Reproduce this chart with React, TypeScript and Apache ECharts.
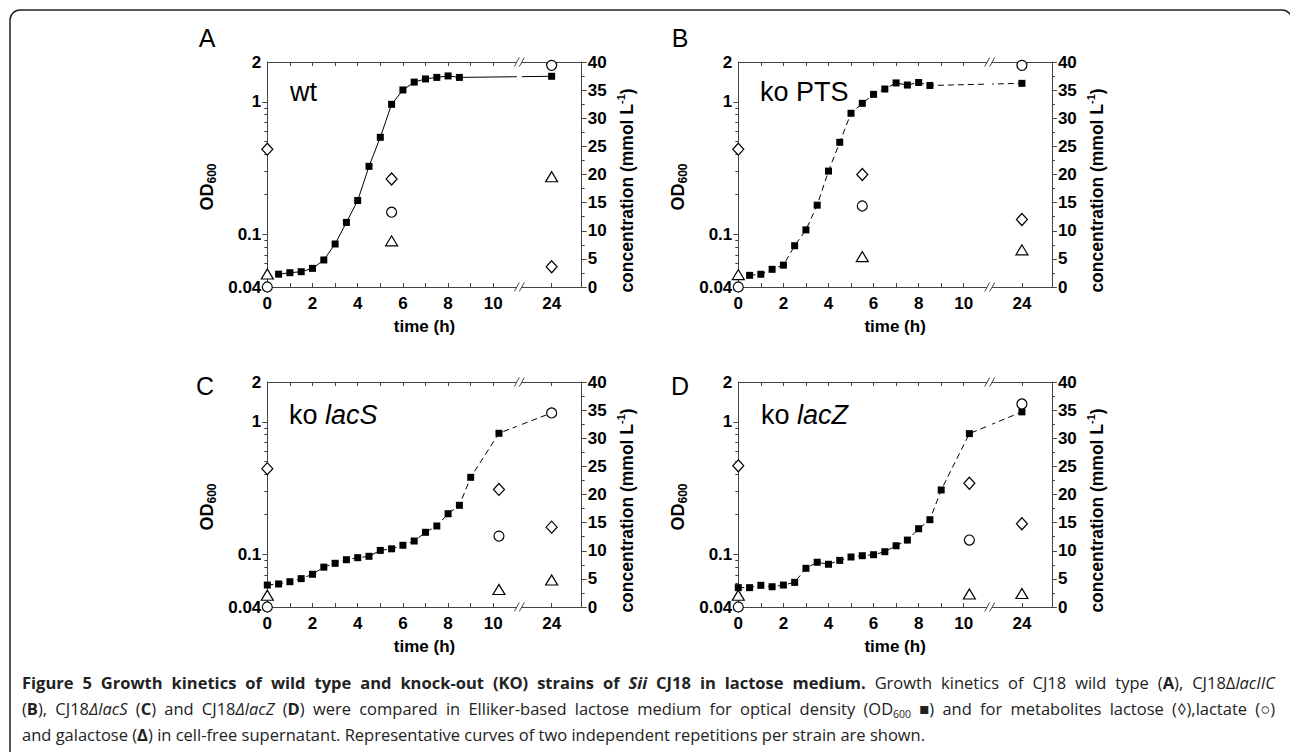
import React, { useEffect, useRef } from 'react';
import * as echarts from 'echarts';

// ---------------- data ----------------
const timeAB = [0.5, 1, 1.5, 2, 2.5, 3, 3.5, 4, 4.5, 5, 5.5, 6, 6.5, 7, 7.5, 8, 8.5, 24];
const odA = [0.050, 0.0513, 0.0522, 0.0553, 0.064, 0.0845, 0.123, 0.180, 0.326, 0.540, 0.958, 1.23, 1.41, 1.49, 1.53, 1.57, 1.53, 1.56];
const odB = [0.049, 0.0499, 0.0544, 0.0585, 0.082, 0.108, 0.166, 0.300, 0.495, 0.820, 0.975, 1.14, 1.25, 1.39, 1.34, 1.40, 1.33, 1.38];
const timeCD = [0, 0.5, 1, 1.5, 2, 2.5, 3, 3.5, 4, 4.5, 5, 5.5, 6, 6.5, 7, 7.5, 8, 8.5, 9, 10.25, 24];
const odC = [0.0586, 0.0597, 0.0621, 0.0655, 0.0707, 0.080, 0.0855, 0.091, 0.0943, 0.0966, 0.107, 0.110, 0.117, 0.126, 0.1466, 0.1636, 0.2025, 0.2344, 0.3814, 0.82, 1.17];
const odD = [0.056, 0.056, 0.0583, 0.0569, 0.0586, 0.0614, 0.0784, 0.0871, 0.0841, 0.090, 0.0954, 0.0976, 0.0993, 0.1046, 0.116, 0.128, 0.156, 0.1825, 0.306, 0.815, 1.19];

const metTimeAB = [0, 5.5, 24];
const metTimeCD = [0, 10.25, 24];
const lactoseA = [24.5, 19.2, 3.6];
const lactateA = [0, 13.3, 39.4];
const galactoseA = [2.3, 8.2, 19.6];
const lactoseB = [24.5, 20.0, 12.0];
const lactateB = [0, 14.4, 39.4];
const galactoseB = [2.2, 5.4, 6.6];
const lactoseC = [24.6, 20.9, 14.2];
const lactateC = [0, 12.6, 34.5];
const galactoseC = [2.1, 3.1, 4.8];
const lactoseD = [25.1, 22.0, 14.8];
const lactateD = [0, 11.9, 36.1];
const galactoseD = [2.1, 2.3, 2.4];

const xLabels = [0, 2, 4, 6, 8, 10, 24];
const xTicks = [0, 1, 2, 3, 4, 5, 6, 7, 8, 9, 10, 24];
const odLabels = [0.04, 0.1, 1, 2];
const odMajorTicks = [0.1, 1];
const odMinorTicks = [0.05, 0.06, 0.07, 0.08, 0.09, 0.2, 0.3, 0.4, 0.5, 0.6, 0.7, 0.8, 0.9];
const panelLetters = ['A', 'B', 'C', 'D'];
const strainLabels = ['{r|wt}', '{r|ko PTS}', '{r|ko }{i|lacS}', '{r|ko }{i|lacZ}'];

const captionLines: [string, string][][] = [
  [
    ['b', 'Figure 5 Growth kinetics of wild type and knock-out (KO) strains of '],
    ['bi', 'Sii'],
    ['b', ' CJ18 in lactose medium.'],
    ['r', ' Growth kinetics of CJ18 wild type ('],
    ['b', 'A'],
    ['r', '), CJ18Δ'],
    ['i', 'lacIIC'],
  ],
  [
    ['r', '('], ['b', 'B'], ['r', '), CJ18'], ['i', 'ΔlacS'], ['r', ' ('], ['b', 'C'],
    ['r', ') and CJ18'], ['i', 'ΔlacZ'], ['r', ' ('], ['b', 'D'],
    ['r', ') were compared in Elliker-based lactose medium for optical density (OD'], ['s', '600'],
    ['r', ' ■) and for metabolites lactose (◊),lactate (○)'],
  ],
  [
    ['r', 'and galactose ('], ['b', 'Δ'],
    ['r', ') in cell-free supernatant. Representative curves of two independent repetitions per strain are shown.'],
  ],
];
const captionJustify = [true, true, false];

// ---------------- layout / style ----------------
const BREAK_START = 11.15;
const BREAK_END = 22.57;
const X_MAX = 25.33;
const GRIDS = [
  { left: 267.3, top: 62, width: 314.4, height: 225 },
  { left: 738.3, top: 62, width: 313.6, height: 225 },
  { left: 267.3, top: 382, width: 314.4, height: 225 },
  { left: 738.3, top: 382, width: 313.6, height: 225 },
];
const LETTER_POS = [[207, 38], [680, 38], [205, 386], [680, 386]];
const STRAIN_POS = [[290, 92], [760, 92], [289, 415], [761, 415]];
const CAPTION_X = 22;
const CAPTION_W = 1253;
const CAPTION_Y = [682, 708, 734];
const CAP_SIZE = 16.5;
const F = "'Liberation Sans', Arial, Helvetica, sans-serif";
const CF = "'Open Sans', 'Noto Sans', sans-serif";
const AX = '#444';
const CAP_COLOR = '#222';

const panels = [
  { t: timeAB, od: odA, mt: metTimeAB, lac: lactoseA, lat: lactateA, gal: galactoseA, dash: false },
  { t: timeAB, od: odB, mt: metTimeAB, lac: lactoseB, lat: lactateB, gal: galactoseB, dash: true },
  { t: timeCD, od: odC, mt: metTimeCD, lac: lactoseC, lat: lactateC, gal: galactoseC, dash: true },
  { t: timeCD, od: odD, mt: metTimeCD, lac: lactoseD, lat: lactateD, gal: galactoseD, dash: true },
];

const tickFont = { color: '#000', fontFamily: F, fontWeight: 'bold' as const, fontSize: 17 };
const fmtNum = (v: number) => String(parseFloat(Number(v).toPrecision(6)));

function buildOption() {
  const xAxis: any[] = [];
  const yAxis: any[] = [];
  const series: any[] = [];
  panels.forEach((p, i) => {
    const brk = { breaks: [{ start: BREAK_START, end: BREAK_END, gap: 0.001 }], breakArea: { show: false } };
    xAxis.push({
      type: 'value', gridIndex: i, position: 'bottom', min: 0, max: X_MAX, ...brk,
      axisLine: { show: true, onZero: false, lineStyle: { color: AX, width: 1 } },
      axisTick: { show: true, inside: true, length: 4, customValues: xTicks, lineStyle: { color: AX } },
      axisLabel: { show: true, customValues: xLabels, formatter: (v: number) => String(Math.round(v)), margin: 8, ...tickFont },
      splitLine: { show: false },
      name: 'time (h)', nameLocation: 'middle', nameGap: 31,
      nameTextStyle: { color: '#000', fontFamily: F, fontWeight: 'bold', fontSize: 17 },
    });
    xAxis.push({
      type: 'value', gridIndex: i, position: 'top', min: 0, max: X_MAX, ...brk,
      axisLine: { show: true, onZero: false, lineStyle: { color: AX, width: 1 } },
      axisTick: { show: true, inside: true, length: 4, customValues: xTicks, lineStyle: { color: AX } },
      axisLabel: { show: false },
      splitLine: { show: false },
    });
    yAxis.push({
      type: 'log', logBase: 10, gridIndex: i, position: 'left', min: 0.04, max: 2,
      axisLine: { show: true, onZero: false, lineStyle: { color: AX, width: 1 } },
      axisTick: { show: true, inside: false, length: 5, customValues: odMajorTicks, lineStyle: { color: AX } },
      axisLabel: { show: true, customValues: odLabels, formatter: fmtNum, margin: 6, ...tickFont },
      splitLine: { show: false },
      name: '{m|OD}{s|600}', nameLocation: 'middle', nameRotate: 90, nameGap: 49,
      nameTextStyle: {
        padding: [0, 25, 0, 0],
        rich: {
          m: { fontFamily: F, fontWeight: 'bold', fontSize: 18, lineHeight: 22, color: '#000', verticalAlign: 'middle' },
          s: { fontFamily: F, fontWeight: 'bold', fontSize: 12, lineHeight: 12, color: '#000', verticalAlign: 'bottom' },
        },
      },
    });
    yAxis.push({
      type: 'log', logBase: 10, gridIndex: i, position: 'left', min: 0.04, max: 2,
      axisLine: { show: false },
      axisTick: { show: true, inside: false, length: 3, customValues: odMinorTicks, lineStyle: { color: AX } },
      axisLabel: { show: false },
      splitLine: { show: false },
    });
    yAxis.push({
      type: 'value', gridIndex: i, position: 'right', min: 0, max: 40, interval: 5,
      axisLine: { show: true, onZero: false, lineStyle: { color: AX, width: 1 } },
      axisTick: { show: true, inside: false, length: 5, lineStyle: { color: AX } },
      minorTick: { show: true, splitNumber: 2, length: 3, lineStyle: { color: AX } },
      axisLabel: { show: true, margin: 6, ...tickFont },
      splitLine: { show: false },
      minorSplitLine: { show: false },
      name: '{m|concentration (mmol L}{u|-1}{m|)}', nameLocation: 'middle', nameRotate: 90, nameGap: 34,
      nameTextStyle: {
        padding: [0, 32, 0, 0],
        rich: {
          m: { fontFamily: F, fontWeight: 'bold', fontSize: 17.5, lineHeight: 22, color: '#000', verticalAlign: 'middle' },
          u: { fontFamily: F, fontWeight: 'bold', fontSize: 11, lineHeight: 11, color: '#000', verticalAlign: 'top' },
        },
      },
    });

    series.push({
      type: 'line', name: 'OD600', xAxisIndex: 2 * i, yAxisIndex: 3 * i,
      data: p.t.map((x, k) => [x, p.od[k]]),
      symbol: 'rect', symbolSize: 7, showSymbol: true, clip: false, silent: true, z: 3,
      itemStyle: { color: '#000' },
      lineStyle: { color: '#000', width: 1, type: p.dash ? [6, 4] : 'solid' },
    });
    const sc = (name: string, vals: number[], symbol: string, size: any) => ({
      type: 'scatter', name, xAxisIndex: 2 * i, yAxisIndex: 3 * i + 2,
      data: p.mt.map((x, k) => [x, vals[k]]),
      symbol, symbolSize: size, clip: false, silent: true, z: 4,
      itemStyle: { color: '#fff', borderColor: '#000', borderWidth: 1.2, opacity: 1 },
    });
    series.push(sc('lactose', p.lac, 'diamond', [11, 12]));
    series.push(sc('galactose', p.gal, 'triangle', [12, 10]));
    series.push(sc('lactate', p.lat, 'circle', 10));
  });
  return { xAxis, yAxis, series };
}

const capStyles: Record<string, any> = {
  r: { fontSize: CAP_SIZE, fontWeight: 'normal', fontStyle: 'normal', lineHeight: 22, verticalAlign: 'middle' },
  b: { fontSize: CAP_SIZE, fontWeight: 'bold', fontStyle: 'normal', lineHeight: 22, verticalAlign: 'middle' },
  i: { fontSize: CAP_SIZE, fontWeight: 'normal', fontStyle: 'italic', lineHeight: 22, verticalAlign: 'middle' },
  bi: { fontSize: CAP_SIZE, fontWeight: 'bold', fontStyle: 'italic', lineHeight: 22, verticalAlign: 'middle' },
  s: { fontSize: 10.5, fontWeight: 'normal', fontStyle: 'normal', lineHeight: 10, verticalAlign: 'bottom' },
};

function measure(ctx: CanvasRenderingContext2D | null, st: any, text: string) {
  if (!ctx) return text.length * st.fontSize * 0.5;
  ctx.font = `${st.fontStyle} ${st.fontWeight} ${st.fontSize}px ${CF}`;
  return ctx.measureText(text).width;
}

function buildCaptionLine(segs: [string, string][], justify: boolean) {
  const canvas = document.createElement('canvas');
  const ctx = canvas.getContext('2d');
  const toks: any[] = [];
  segs.forEach(([st, txt]) => {
    const parts = txt.split(' ');
    parts.forEach((w, j) => {
      if (j > 0 && !(toks.length && toks[toks.length - 1].gap)) toks.push({ gap: true });
      if (w) toks.push({ st, text: w });
    });
  });
  let sum = 0;
  let gaps = 0;
  toks.forEach((t) => {
    if (t.gap) gaps++;
    else sum += measure(ctx, capStyles[t.st], t.text);
  });
  const spaceW = measure(ctx, capStyles.r, ' ');
  const gw = justify && gaps ? Math.max(spaceW * 0.6, (CAPTION_W - sum) / gaps) : spaceW;
  const rich: any = {};
  Object.keys(capStyles).forEach((k) => {
    rich[k] = { ...capStyles[k], fill: CAP_COLOR, fontFamily: CF };
  });
  rich.g = { ...capStyles.r, fill: CAP_COLOR, fontFamily: CF, width: gw };
  const text = toks.map((t) => (t.gap ? '{g| }' : `{${t.st}|${t.text}}`)).join('');
  return { text, rich };
}

function staticGraphics(): any[] {
  const g: any[] = [];
  g.push({
    type: 'rect', silent: true, z: 0,
    shape: { x: 10, y: 10, width: 1282, height: 800, r: 10 },
    style: { fill: 'none', stroke: '#222', lineWidth: 1.5 },
  });
  panelLetters.forEach((L, i) => {
    g.push({
      type: 'text', silent: true, z: 10, x: LETTER_POS[i][0], y: LETTER_POS[i][1],
      style: { text: L, fill: '#000', fontFamily: F, fontSize: 25, align: 'center', verticalAlign: 'middle', textAlign: 'center', textVerticalAlign: 'middle' },
    });
    g.push({
      type: 'text', silent: true, z: 10, x: STRAIN_POS[i][0], y: STRAIN_POS[i][1],
      style: {
        text: strainLabels[i], align: 'left', verticalAlign: 'middle', textAlign: 'left', textVerticalAlign: 'middle',
        rich: {
          r: { fill: '#000', fontFamily: F, fontSize: 27 },
          i: { fill: '#000', fontFamily: F, fontSize: 27, fontStyle: 'italic' },
        },
      },
    });
  });
  captionLines.forEach((segs, k) => {
    const { text, rich } = buildCaptionLine(segs, captionJustify[k]);
    g.push({
      type: 'text', silent: true, z: 10, x: CAPTION_X, y: CAPTION_Y[k],
      style: { text, rich, align: 'left', verticalAlign: 'middle', textAlign: 'left', textVerticalAlign: 'middle' },
    });
  });
  return g;
}

export default function App() {
  const ref = useRef<HTMLDivElement>(null);
  useEffect(() => {
    if (!ref.current) return;
    const chart = echarts.init(ref.current, undefined, { renderer: 'svg' });
    const base = buildOption();
    const sg = staticGraphics();
    chart.setOption({
      animation: false,
      backgroundColor: '#fff',
      grid: GRIDS.map((g) => ({ ...g, containLabel: false })),
      ...base,
      graphic: sg,
    });
    const marks: any[] = [];
    GRIDS.forEach((gr, i) => {
      const bx = chart.convertToPixel({ xAxisIndex: 2 * i }, BREAK_START) as unknown as number;
      if (typeof bx !== 'number' || !isFinite(bx)) return;
      marks.push({
        type: 'rect', silent: true, z: 100,
        shape: { x: bx - 2.5, y: gr.top - 3, width: 5, height: gr.height + 6 },
        style: { fill: '#fff' },
      });
      [gr.top, gr.top + gr.height].forEach((yy) => {
        [-2.5, 2.5].forEach((dx) => {
          marks.push({
            type: 'line', silent: true, z: 101,
            shape: { x1: bx + dx - 2.5, y1: yy + 4.5, x2: bx + dx + 2.5, y2: yy - 4.5 },
            style: { stroke: AX, lineWidth: 1 },
          });
        });
      });
    });
    chart.setOption({ graphic: [...sg, ...marks] });
    return () => chart.dispose();
  }, []);
  return <div ref={ref} style={{ position: 'absolute', left: 0, top: 0, width: 1290, height: 752, background: '#fff' }} />;
}
